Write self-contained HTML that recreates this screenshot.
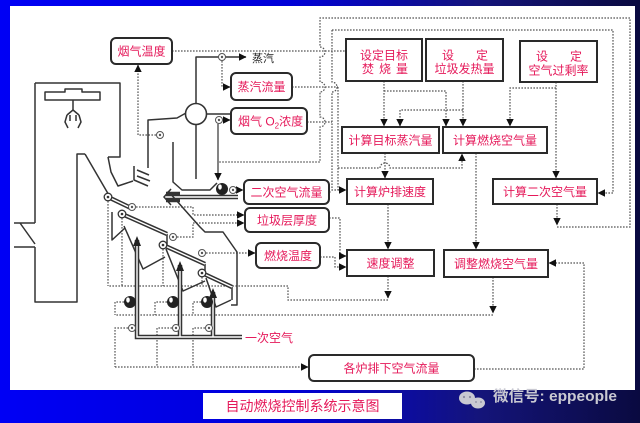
<!DOCTYPE html>
<html><head><meta charset="utf-8">
<style>
html,body{margin:0;padding:0;width:640px;height:423px;overflow:hidden;background:#0000e0;}
svg{display:block;}
text{font-family:"Liberation Sans","Noto Sans CJK SC","WenQuanYi Zen Hei",sans-serif;}
</style></head>
<body>
<svg width="640" height="423" viewBox="0 0 640 423" xmlns="http://www.w3.org/2000/svg">
<defs>
 <linearGradient id="bg" x1="0" y1="0" x2="1" y2="0">
  <stop offset="0" stop-color="#0000f5"/>
  <stop offset="0.45" stop-color="#0000d8"/>
  <stop offset="0.75" stop-color="#14147a"/>
  <stop offset="1" stop-color="#0a0a40"/>
 </linearGradient>
 <marker id="ar" markerWidth="9" markerHeight="9" refX="7" refY="4" orient="auto" markerUnits="userSpaceOnUse"><path d="M0,0.3 L7.5,4 L0,7.7z" fill="#111"/></marker>
</defs>
<rect width="640" height="423" fill="url(#bg)"/>
<rect x="10" y="6" width="625" height="384" fill="#fff"/>

<!-- dotted signal lines -->
<g fill="none" stroke="#555" stroke-width="1.2" stroke-dasharray="1.6 1.4">
 <path d="M557,204 V225" marker-end="url(#ar)"/>
 <path d="M557,227 H630 V18 H320 V47 a5,5 0 0 1 0,10 V82 a5,5 0 0 1 0,10 V117 a5,5 0 0 1 0,10 V162 H218"/>
 <path d="M332,30 H613 V193 H598" marker-end="url(#ar)"/>
 <path d="M332,30 V82 a5,5 0 0 1 0,10 V190 H346" marker-end="url(#ar)"/>
 <path d="M172,51 H345"/>
 <path d="M292,87 H338"/>
 <path d="M307,122 H332"/>
 <path d="M338,87 V190"/>
 <path d="M329,192 H332"/>
 <path d="M384,81 V126" marker-end="url(#ar)"/>
 <path d="M384,91 H446 V126" marker-end="url(#ar)"/>
 <path d="M463,81 V126" marker-end="url(#ar)"/>
 <path d="M463,110 H400 V126" marker-end="url(#ar)"/>
 <path d="M556,82 V178" marker-end="url(#ar)"/>
 <path d="M556,88 H510 V126" marker-end="url(#ar)"/>
 <path d="M385,153 V178" marker-end="url(#ar)"/>
 <path d="M338,168 H380 a5,5 0 0 1 10,0 H462 V154" marker-end="url(#ar)"/>
 <path d="M476,153 V249" marker-end="url(#ar)"/>
 <path d="M388,204 V249" marker-end="url(#ar)"/>
 <path d="M329,218 H340 V256 H346" marker-end="url(#ar)"/>
 <path d="M320,257 H335 V267 H346" marker-end="url(#ar)"/>
 <path d="M388,276 V298" marker-end="url(#ar)"/>
 <path d="M388,300 H288 V286 H108"/>
 <path d="M493,277 V313" marker-end="url(#ar)"/>
 <path d="M493,315 H115"/>
 <path d="M474,369 H584 V263 H549" marker-end="url(#ar)"/>
 <path d="M115,367 H308" marker-end="url(#ar)"/>
 <path d="M128,328 H115 V367"/>
 <path d="M172,328 H157 V367"/>
 <path d="M205,328 H193 V367"/>
 <path d="M124,302 H115 V315"/>
 <path d="M167,302 H155 V315"/>
 <path d="M201,302 H193 V315"/>
 <path d="M108,201 V286"/>
 <path d="M122,218 V286"/>
 <path d="M163,249 V286"/>
 <path d="M202,277 V286"/>
 <path d="M136,207 H193 V215 H244" marker-end="url(#ar)"/>
 <path d="M177,237 H193 V223 H244" marker-end="url(#ar)"/>
 <path d="M206,253 H255" marker-end="url(#ar)"/>
 <path d="M156,135 H138 V65" marker-end="url(#ar)"/>
 <path d="M222,61 V87 H230" marker-end="url(#ar)"/>
 <path d="M223,120 H230" marker-end="url(#ar)"/>
 <path d="M237,190 H243" marker-end="url(#ar)"/>
</g>

<!-- furnace solid lines -->
<g fill="none" stroke="#333" stroke-width="1.5" stroke-linejoin="round">
 <!-- bunker -->
 <path d="M35,83 H120 V157 H108"/>
 <path d="M35,83 V223 M14,223 H35 M20,223 L35,244 M14,247 H35 M35,247 V302 H77 V154 H85"/>
 <path d="M45,92 H65 V89 H82 V92 H100 V100 H45 Z"/>
 <path d="M73,100 V111"/>
 <path d="M67,115 L73,110 L79,115 M67,115 L65,122 L68,128 M79,115 L81,122 L78,128 M70,115 V121 M76,115 V121"/>
 <!-- chute -->
 <path d="M85,154 L110,197"/>
 <path d="M108,157 L111,172 L118,186 L133,181"/>
 <!-- front wall & flue -->
 <path d="M148,168 V120 L177,118 L186,113"/>
 <path d="M134,166 V180 L148,186 M137,170 L149,175 M137,176 L150,181"/>
 <!-- steam line -->
 <path d="M196,103 V57 H246" marker-end="url(#ar)"/>
 <path d="M206,114 H231"/>
 <path d="M196,125 V179"/>
 <!-- inner U -->
 <path d="M173,142 V182 L182,190 H210 L217,183"/>
 <path d="M218,124 V180" stroke-width="1.2" marker-end="url(#ar)"/>
 <!-- rear wall -->
 <path d="M168,191 L200,227 L205,232 H223 L237,252 V305 H231"/>
 <!-- grate hoppers -->
 <path d="M112,212 V240 L125,228"/>
 <path d="M124,226 L143,269 L165,257"/>
 <path d="M167,234 V247"/>
 <path d="M166,249 L183,291 L205,281"/>
 <path d="M205,264 V274"/>
 <path d="M206,278 L216,307 L231,300"/>
 <path d="M232,287 V300"/>
</g>

<!-- double-line pipes / grates -->
<g fill="none" stroke="#333" stroke-width="4.5" stroke-linejoin="miter">
 <path d="M108,197 L131,208"/>
 <path d="M122,214 L167,234"/>
 <path d="M163,245 L205,264"/>
 <path d="M202,273 L232,287"/>
 <path d="M137,240 V337 H242 M180,265 V337 M213,292 V337"/>
 <path d="M180,197 H238"/>
 <path d="M180,194 L166,194 M180,200 L166,200"/>
</g>
<g fill="none" stroke="#fff" stroke-width="1.4">
 <path d="M108,197 L131,208"/>
 <path d="M122,214 L167,234"/>
 <path d="M163,245 L205,264"/>
 <path d="M202,273 L232,287"/>
 <path d="M137,240 V337 H242 M180,265 V337 M213,292 V337"/>
 <path d="M180,197 H238"/>
</g>
<g fill="#222">
 <path d="M133,246 L137,236 L141,246z"/>
 <path d="M176,271 L180,261 L184,271z"/>
 <path d="M209,298 L213,288 L217,298z"/>
</g>
<path d="M171,189 L164,197 L171,205" fill="none" stroke="#333" stroke-width="1.5"/>

<!-- boiler drum circle -->
<circle cx="196" cy="114" r="10.5" fill="#fff" stroke="#333" stroke-width="1.6"/>

<!-- grate drive circles -->
<g fill="#fff" stroke="#333" stroke-width="1.3">
 <circle cx="108" cy="197" r="3.8"/>
 <circle cx="122" cy="214" r="3.8"/>
 <circle cx="163" cy="245" r="3.8"/>
 <circle cx="202" cy="273" r="3.8"/>
</g>
<g fill="#333">
 <circle cx="108" cy="197" r="1.3"/>
 <circle cx="122" cy="214" r="1.3"/>
 <circle cx="163" cy="245" r="1.3"/>
 <circle cx="202" cy="273" r="1.3"/>
</g>

<!-- sensors / valves -->
<g fill="#fff" stroke="#555" stroke-width="1">
 <circle cx="160" cy="135" r="3.5"/>
 <circle cx="222" cy="57" r="3.5"/>
 <circle cx="219" cy="120" r="3.5"/>
 <circle cx="233" cy="190" r="3.5"/>
 <circle cx="132" cy="207" r="3.5"/>
 <circle cx="173" cy="237" r="3.5"/>
 <circle cx="202" cy="253" r="3.5"/>
 <circle cx="132" cy="328" r="3.5"/>
 <circle cx="176" cy="328" r="3.5"/>
 <circle cx="209" cy="328" r="3.5"/>
</g>
<g fill="#555">
 <circle cx="160" cy="135" r="1.2"/>
 <circle cx="222" cy="57" r="1.2"/>
 <circle cx="219" cy="120" r="1.2"/>
 <circle cx="233" cy="190" r="1.2"/>
 <circle cx="132" cy="207" r="1.2"/>
 <circle cx="173" cy="237" r="1.2"/>
 <circle cx="202" cy="253" r="1.2"/>
 <circle cx="132" cy="328" r="1.2"/>
 <circle cx="176" cy="328" r="1.2"/>
 <circle cx="209" cy="328" r="1.2"/>
</g>

<!-- fans -->
<g>
 <circle cx="222" cy="189" r="6" fill="#222"/>
 <circle cx="130" cy="302" r="6" fill="#222"/>
 <circle cx="173" cy="302" r="6" fill="#222"/>
 <circle cx="207" cy="302" r="6" fill="#222"/>
 <g fill="#fff">
  <ellipse cx="220" cy="187" rx="1.8" ry="2.6"/>
  <ellipse cx="128" cy="300" rx="1.8" ry="2.6"/>
  <ellipse cx="171" cy="300" rx="1.8" ry="2.6"/>
  <ellipse cx="205" cy="300" rx="1.8" ry="2.6"/>
 </g>
</g>

<!-- boxes -->
<g fill="#fff" stroke="#2a2a2a" stroke-width="2">
 <rect x="111" y="38" width="61" height="26" rx="5"/>
 <rect x="231" y="73" width="61" height="27" rx="5"/>
 <rect x="231" y="108" width="76" height="26" rx="5"/>
 <rect x="244" y="180" width="85" height="24" rx="5"/>
 <rect x="245" y="208" width="84" height="24" rx="5"/>
 <rect x="256" y="243" width="64" height="25" rx="5"/>
 <rect x="309" y="355" width="165" height="26" rx="5"/>
 <rect x="346" y="39" width="76" height="42"/>
 <rect x="426" y="39" width="77" height="42"/>
 <rect x="520" y="41" width="77" height="41"/>
 <rect x="342" y="127" width="97" height="26"/>
 <rect x="443" y="127" width="104" height="26"/>
 <rect x="347" y="179" width="86" height="25"/>
 <rect x="493" y="179" width="104" height="25"/>
 <rect x="347" y="250" width="87" height="26"/>
 <rect x="444" y="250" width="104" height="27"/>
</g>

<!-- labels -->
<g fill="#e5195a" font-size="12" text-anchor="middle">
 <text x="141.5" y="55.5">烟气温度</text>
 <text x="261.5" y="91">蒸汽流量</text>
 <text x="286.5" y="196.5">二次空气流量</text>
 <text x="287" y="224.5">垃圾层厚度</text>
 <text x="288" y="260">燃烧温度</text>
 <text x="391.5" y="372.5">各炉排下空气流量</text>
 <text x="384" y="59.5">设定目标</text>
 <text x="368" y="73">焚</text><text x="385" y="73">烧</text><text x="402" y="73">量</text>
 <text x="448" y="59.5">设</text><text x="482" y="59.5">定</text>
 <text x="464.5" y="73">垃圾发热量</text>
 <text x="542" y="60.5">设</text><text x="576" y="60.5">定</text>
 <text x="558.5" y="74.5">空气过剩率</text>
 <text x="390.5" y="144.5">计算目标蒸汽量</text>
 <text x="495" y="144.5">计算燃烧空气量</text>
 <text x="390" y="196">计算炉排速度</text>
 <text x="545" y="196">计算二次空气量</text>
 <text x="390.5" y="267.5">速度调整</text>
 <text x="496" y="268">调整燃烧空气量</text>
</g>
<text x="238" y="125.5" fill="#e5195a" font-size="12">烟气 O<tspan font-size="8" dy="3">2</tspan><tspan dy="-3">浓度</tspan></text>
<text x="245" y="342" fill="#e5195a" font-size="12">一次空气</text>
<text x="252" y="62" fill="#222" font-size="11">蒸汽</text>

<!-- caption -->
<rect x="203" y="393" width="199" height="26" fill="#fff"/>
<text x="302.5" y="411" fill="#e5195a" font-size="14" text-anchor="middle">自动燃烧控制系统示意图</text>

<!-- watermark -->
<g fill="#c9c9d2">
 <ellipse cx="467" cy="398" rx="8" ry="6.5"/>
 <ellipse cx="478" cy="403" rx="7" ry="5.5"/>
</g>
<g fill="#8a8aa0">
 <circle cx="464" cy="397" r="1.1"/><circle cx="470" cy="397" r="1.1"/>
 <circle cx="476" cy="402" r="0.9"/><circle cx="481" cy="402" r="0.9"/>
</g>
<text x="493" y="401" fill="#c9c9d2" font-size="15" font-weight="bold" textLength="124" lengthAdjust="spacingAndGlyphs">微信号: eppeople</text>
</svg>
</body></html>
